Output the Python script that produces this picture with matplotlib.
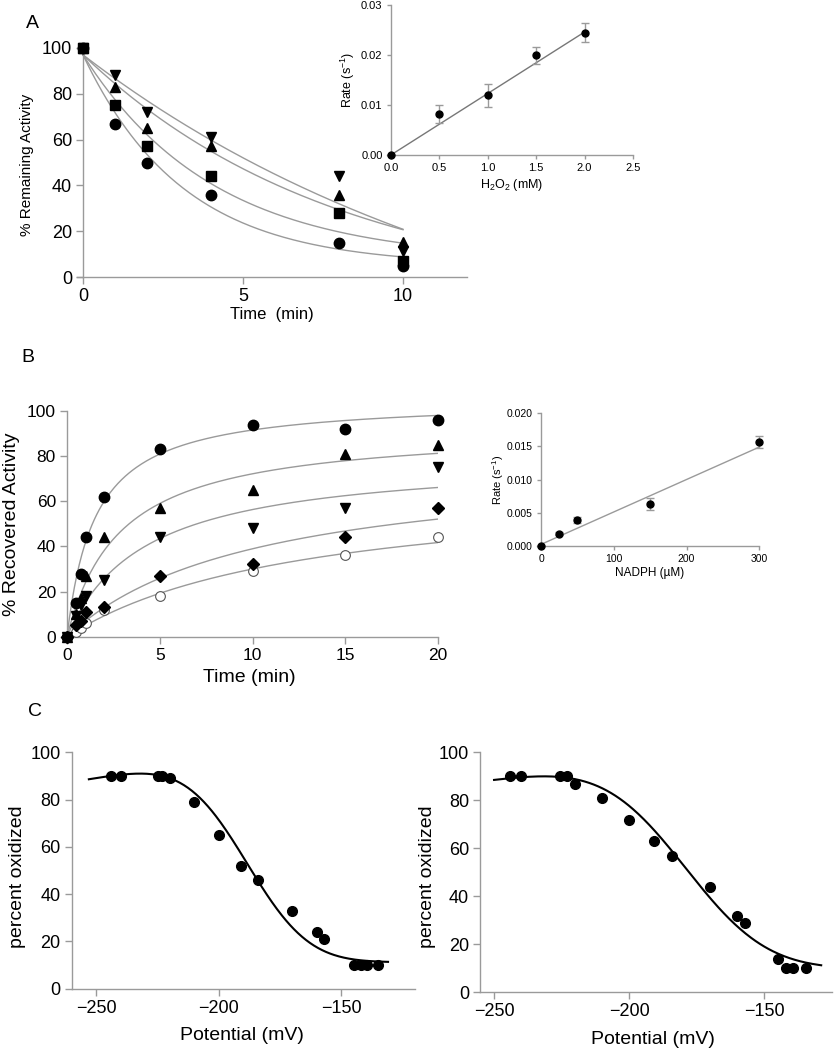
import math
import numpy as np
import matplotlib
matplotlib.use("Agg")
import matplotlib.pyplot as plt

plt.rcParams['font.family'] = ['Liberation Sans', 'DejaVu Sans']
plt.rcParams['mathtext.fontset'] = 'custom'
plt.rcParams['mathtext.rm'] = 'Liberation Sans'
plt.rcParams['mathtext.default'] = 'regular'

# ---- panel A: inactivation by H2O2 ----
tA = [0, 1, 2, 4, 8, 10]
remCircle = [100, 67, 50, 36, 15, 5]
remSquare = [100, 75, 57, 44, 28, 7]
remUp = [100, 83, 65, 57, 36, 15.5]
remDown = [100, 88, 72, 61, 44, 11.5]
# fit parameters (plateau, rate) for y = P + (97 - P) exp(-k t)
fitA = {'circle': (5, 0.32), 'square': (7, 0.245), 'up': (-10, 0.125), 'down': (-50, 0.073)}

h2o2 = [0, 0.5, 1.0, 1.5, 2.0]
rateA = [0, 0.0082, 0.0120, 0.0200, 0.0245]
errA = [0, 0.0018, 0.0023, 0.0017, 0.0019]
slopeA = 0.0123

# ---- panel B: recovery ----
tB = [0, 0.5, 0.75, 1, 2, 5, 10, 15, 20]
recCircle = [0, 15, 28, 44, 62, 83, 94, 92, 96]
recUp = [0, 10, 17, 27, 44, 57, 65, 81, 85]
recDown = [0, 9, 14, 18, 25, 44, 48, 57, 75]
recDiamond = [0, 5, 7, 11, 13, 27, 32, 44, 57]
recOpen = [0, 2, 4, 6, 12, 18, 29, 36, 44]
# hyperbolic fits (Ymax, K)
fitB = {'circle': (105.5, 1.52), 'up': (92.9, 2.87), 'down': (80.0, 4.2),
        'diamond': (78.7, 10.2), 'open': (68.4, 12.8)}

nadph = [0, 25, 50, 150, 300]
rateB = [0, 0.0018, 0.0039, 0.0063, 0.0157]
errB = [0, 0.0002, 0.0004, 0.0009, 0.0009]
interceptB, slopeB = 0.0002, 0.0000490

# ---- panel C: redox titrations ----
potL = [-244, -240, -225, -223, -220, -210, -200, -191, -184, -170, -160, -157, -145, -142, -139.5, -135]
oxL = [90, 90, 90, 90, 89, 79, 65, 52, 46, 33, 24, 21, 10, 10, 10, 10]
potR = [-244, -240, -225.5, -223, -220, -210, -200, -191, -184, -170, -160, -157, -145, -142, -139.5, -134.5]
oxR = [90, 90, 90, 90, 87, 81, 72, 63, 57, 44, 32, 29, 14, 10, 10, 10]
# (bottom, top at E0, baseline slope, E0, sigma, Estart, Eend)
fitCL = (11.2, 100, 0.18, -190, 20, -253, -131)
fitCR = (9.8, 99, 0.15, -181, 24, -250, -129)

W, H = 834, 1050
fig = plt.figure(figsize=(W / 100, H / 100), dpi=100)
GRAY = '#9a9a9a'


def add_ax(left, top, right, bottom):
    return fig.add_axes([left / W, 1 - bottom / H, (right - left) / W, (bottom - top) / H])


def style(ax, fs, ticklen=5):
    for s in ['top', 'right']:
        ax.spines[s].set_visible(False)
    for s in ['left', 'bottom']:
        ax.spines[s].set_color(GRAY)
        ax.spines[s].set_linewidth(1)
    ax.tick_params(direction='out', length=ticklen, width=1, color=GRAY,
                   labelsize=fs, labelcolor='black', pad=3)
    ax.patch.set_alpha(0)


def txt(x, y, s, fs, rot=0):
    fig.text(x / W, 1 - y / H, s, fontsize=fs, rotation=rot, ha='center', va='center')


# panel A main
ax = add_ax(76.6, 48, 467, 277)
style(ax, 13)
ax.spines['left'].set_position(('data', 0))
ax.set_xlim(-0.2, 12)
ax.set_ylim(0, 100)
tt = np.linspace(0, 10, 200)
for key in ['down', 'up', 'square', 'circle']:
    P, k = fitA[key]
    ax.plot(tt, P + (97 - P) * np.exp(-k * tt), color=GRAY, lw=1)
mk = dict(ls='none', color='black', clip_on=False, zorder=3)
ax.plot(tA, remCircle, 'o', ms=7.5, **mk)
ax.plot(tA, remDown, 'v', ms=7.5, **mk)
ax.plot(tA, remUp, '^', ms=7.5, **mk)
ax.plot(tA, remSquare, 's', ms=7, **mk)
ax.set_xticks([0, 5, 10])
ax.set_yticks([0, 20, 40, 60, 80, 100])
txt(32, 23, 'A', 14)
txt(27, 165, '% Remaining Activity', 11, 90)
txt(272, 314, 'Time  (min)', 12)

# panel A inset
ax = add_ax(387, 5, 633, 155)
style(ax, 8, 3)
ax.spines['left'].set_position(('data', 0))
ax.set_xlim(-0.04, 2.5)
ax.set_ylim(0, 0.03)
xl = np.array([0, 2.0])
ax.plot(xl, slopeA * xl, color='#777777', lw=1)
ax.errorbar(h2o2, rateA, yerr=errA, fmt='o', ms=5, color='black', ecolor=GRAY,
            elinewidth=1, capsize=3, capthick=1, clip_on=False, zorder=3)
ax.set_xticks([0, 0.5, 1.0, 1.5, 2.0, 2.5])
ax.set_xticklabels(['0.0', '0.5', '1.0', '1.5', '2.0', '2.5'])
ax.set_yticks([0, 0.01, 0.02, 0.03])
ax.set_yticklabels(['0.00', '0.01', '0.02', '0.03'])
txt(348, 80, 'Rate (s$^{-1}$)', 9, 90)
txt(512, 185, 'H$_2$O$_2$ (mM)', 9)

# panel B main
ax = add_ax(62, 411, 438, 636.7)
style(ax, 12.5)
ax.spines['left'].set_position(('data', 0))
ax.set_xlim(-0.27, 20)
ax.set_ylim(0, 100)
tt = np.linspace(0, 20, 300)
for key in ['circle', 'up', 'down', 'diamond', 'open']:
    Ym, K = fitB[key]
    ax.plot(tt, Ym * tt / (K + tt), color=GRAY, lw=1)
ax.plot(tB, recOpen, 'o', ms=7, mfc='white', mec='#555555', mew=0.8, ls='none', clip_on=False, zorder=3)
ax.plot(tB, recDiamond, 'D', ms=6.5, **mk)
ax.plot(tB, recDown, 'v', ms=7, **mk)
ax.plot(tB, recUp, '^', ms=7, **mk)
ax.plot(tB, recCircle, 'o', ms=7.5, **mk)
ax.set_xticks([0, 5, 10, 15, 20])
ax.set_yticks([0, 20, 40, 60, 80, 100])
txt(28, 358, 'B', 14)
txt(12, 524, '% Recovered Activity', 14, 90)
txt(249, 678, 'Time (min)', 14)

# panel B inset
ax = add_ax(536.7, 413.3, 759.3, 545.7)
style(ax, 7.5, 3)
ax.spines['left'].set_position(('data', 0))
ax.set_xlim(-6, 300)
ax.set_ylim(0, 0.02)
xl = np.array([0, 300])
ax.plot(xl, interceptB + slopeB * xl, color=GRAY, lw=1)
ax.errorbar(nadph, rateB, yerr=errB, fmt='o', ms=5, color='black', ecolor=GRAY,
            elinewidth=1, capsize=3, capthick=1, clip_on=False, zorder=3)
ax.set_xticks([0, 100, 200, 300])
ax.set_yticks([0, 0.005, 0.010, 0.015, 0.020])
ax.set_yticklabels(['0.000', '0.005', '0.010', '0.015', '0.020'])
txt(498, 480, 'Rate (s$^{-1}$)', 8, 90)
txt(650, 573, 'NADPH (µM)', 8.5)


# panel C
def titration(E, p):
    B, T0, s, E0, sig = p[:5]
    f = np.array([0.5 * math.erfc((e - E0) / (sig * math.sqrt(2))) for e in E])
    return B + (T0 + s * (E - E0) - B) * f


for box, xlim, pot, ox, p, ylab, xlab in [
        ((71.7, 752.3, 415, 988.7), (-260, -120), potL, oxL, fitCL, (18, 877), (242, 1035)),
        ((480, 752.3, 832, 992.3), (-255.2, -125), potR, oxR, fitCR, (427, 877), (653, 1040))]:
    ax = add_ax(*box)
    style(ax, 13)
    ax.set_xlim(*xlim)
    ax.set_ylim(0, 100)
    E = np.linspace(p[5], p[6], 300)
    ax.plot(E, titration(E, p), color='black', lw=1.5)
    ax.plot(pot, ox, 'o', ms=7, ls='none', color='black', zorder=3)
    ax.set_xticks([-250, -200, -150])
    ax.set_yticks([0, 20, 40, 60, 80, 100])
    txt(ylab[0], ylab[1], 'percent oxidized', 14, 90)
    txt(xlab[0], xlab[1], 'Potential (mV)', 14)
txt(35, 712, 'C', 14)

fig.savefig('out.png', dpi=100)
